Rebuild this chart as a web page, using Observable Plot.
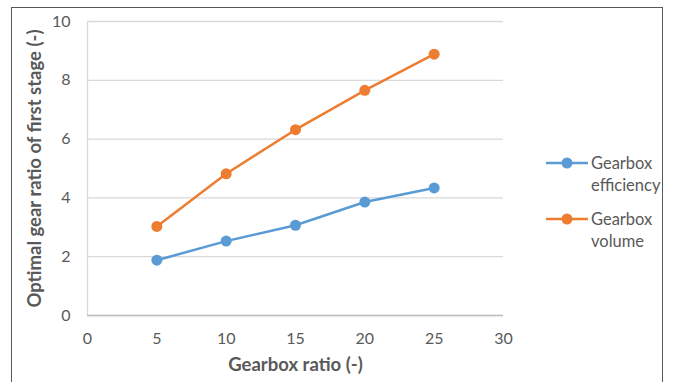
<!DOCTYPE html>
<html>
<head>
<meta charset="utf-8">
<script src="https://cdn.jsdelivr.net/npm/d3@7"></script>
<script src="https://cdn.jsdelivr.net/npm/@observablehq/plot@0.6"></script>
<style>
  html, body { margin: 0; padding: 0; background: #fff; }
  #wrap { position: relative; width: 675px; height: 382px; font-family: Lato, "Open Sans", sans-serif; }
  #border { position: absolute; left: 11px; top: 7px; width: 652px; height: 378px; border: 1px solid #595959; box-sizing: border-box; pointer-events: none; }
  #legend { position: absolute; left: 546px; top: 152px; font-size: 16.5px; color: #595959; line-height: 22px; }
  .item { display: flex; align-items: flex-start; margin-bottom: 12px; }
  .item svg { flex: none; margin-top: 2px; }
  .item span { margin-left: 3px; }
</style>
</head>
<body>
<div id="wrap"><div id="border"></div><div id="legend"></div></div>
<script>
const gearboxRatio = [5, 10, 15, 20, 25];
const efficiency = [1.88, 2.53, 3.07, 3.86, 4.34];
const volume = [3.03, 4.82, 6.32, 7.66, 8.89];
const seriesNames = ["Gearbox efficiency", "Gearbox volume"];
const colors = ["#5B9BD5", "#ED7D31"];
const xTicks = [0, 5, 10, 15, 20, 25, 30];
const yTicks = [0, 2, 4, 6, 8, 10];

const data = [];
gearboxRatio.forEach((x, i) => {
  data.push({x, y: efficiency[i], s: seriesNames[0]});
  data.push({x, y: volume[i], s: seriesNames[1]});
});

const plot = Plot.plot({
  width: 675, height: 382,
  marginLeft: 87, marginRight: 172, marginTop: 21, marginBottom: 67,
  style: {fontFamily: "Lato, 'Open Sans', sans-serif", fontSize: "16px", color: "#595959", background: "transparent"},
  x: {domain: [0, 30], ticks: xTicks},
  y: {domain: [0, 10], ticks: yTicks},
  color: {domain: seriesNames, range: colors},
  marks: [
    Plot.gridY(yTicks, {stroke: "#d9d9d9", strokeOpacity: 1, strokeWidth: 1.3}),
    Plot.ruleX([0], {stroke: "#d9d9d9", strokeWidth: 1.3}),
    Plot.ruleY([0], {stroke: "#bfbfbf", strokeWidth: 1.3}),
    Plot.axisX({ticks: xTicks, tickSize: 0, tickPadding: 17, label: null, fill: "#595959"}),
    Plot.axisY({ticks: yTicks, tickSize: 0, tickPadding: 17, label: null, fill: "#595959"}),
    Plot.line(data, {x: "x", y: "y", z: "s", stroke: "s", strokeWidth: 2.5}),
    Plot.dot(data, {x: "x", y: "y", fill: "s", r: 5.5}),
    Plot.text(["Gearbox ratio (-)"], {frameAnchor: "bottom", dy: 55, fontWeight: "bold", fontSize: 18.5, fill: "#595959", text: d => d}),
    Plot.text(["Optimal gear ratio of first stage (-)"], {frameAnchor: "left", textAnchor: "middle", dx: -52, rotate: -90, fontWeight: "bold", fontSize: 18.5, fill: "#595959", text: d => d})
  ]
});
document.getElementById("wrap").prepend(plot);

const legend = document.getElementById("legend");
const labels = [["Gearbox", "efficiency"], ["Gearbox", "volume"]];
seriesNames.forEach((n, i) => {
  const div = document.createElement("div");
  div.className = "item";
  div.innerHTML = `<svg width="42" height="18"><line x1="0" x2="42" y1="9" y2="9" stroke="${colors[i]}" stroke-width="2.5"/><circle cx="21" cy="9" r="5.5" fill="${colors[i]}"/></svg><span>${labels[i][0]}<br>${labels[i][1]}</span>`;
  legend.appendChild(div);
});
</script>
</body>
</html>
